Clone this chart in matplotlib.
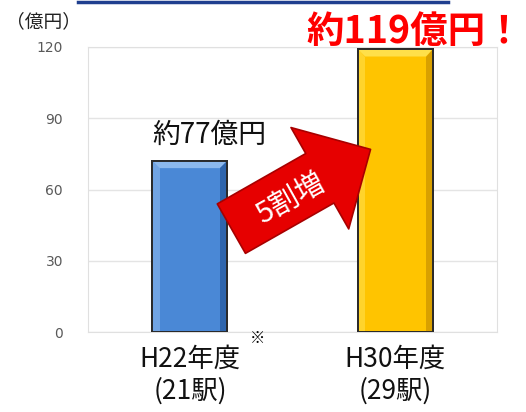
import numpy as np
import matplotlib.pyplot as plt
from matplotlib.patches import Polygon
from matplotlib.lines import Line2D

plt.rcParams['font.family'] = ['Noto Sans CJK JP', 'DejaVu Sans']

categories = ['H22年度\n(21駅)', 'H30年度\n(29駅)']
values = [72, 119]
yticks = [0, 30, 60, 90, 120]
face = ['#4A88D6', '#FFC400']
light = ['#8CB8EC', '#FFE04A']
dark = ['#2E65AD', '#D9A000']

fig = plt.figure(figsize=(5.26, 4.12), dpi=100)
ax = fig.add_axes([88 / 526, 1 - 332 / 412, 409 / 526, 285 / 412])

x = np.arange(len(values))
w = 0.365
ax.bar(x, values, width=w, color=face, edgecolor='#2a2a2a', linewidth=1.4, zorder=3)

# bevel look
bx = 0.035
by = 3.0
for i, v in enumerate(values):
    l, r = x[i] - w / 2, x[i] + w / 2
    ax.add_patch(Polygon([[l, v], [r, v], [r - bx, v - by], [l + bx, v - by]],
                         closed=True, color=light[i], zorder=4, lw=0))
    ax.add_patch(Polygon([[r, v], [r, 0], [r - bx, 0], [r - bx, v - by]],
                         closed=True, color=dark[i], zorder=4, lw=0))
    ax.add_patch(Polygon([[l, v], [l, 0], [l + bx, 0], [l + bx, v - by]],
                         closed=True, color=light[i], alpha=0.6, zorder=4, lw=0))
    ax.add_patch(plt.Rectangle((l, 0), w, v, fill=False, ec='#2a2a2a', lw=1.4, zorder=5))

ax.set_xlim(-0.496, 1.494)
ax.set_ylim(0, 120)
ax.set_yticks(yticks)
ax.set_yticklabels([str(t) for t in yticks], color='#595959', fontsize=10,
                   family=['DejaVu Sans'])
ax.tick_params(axis='y', length=0, pad=18)
ax.set_xticks(x)
ax.set_xticklabels(categories, fontsize=19, linespacing=1.2, color='#111111')
ax.tick_params(axis='x', length=0, pad=10)
ax.grid(axis='y', color='#e4e4e4', lw=1, zorder=0)
for s in ax.spines.values():
    s.set_color('#e0e0e0')

# arrow
ax.annotate('', xy=((373 - 190) / 205.5, (332 - 148) / 2.375),
            xytext=((229 - 190) / 205.5, (332 - 230) / 2.375),
            arrowprops=dict(arrowstyle='simple,head_length=42,head_width=84,tail_width=41',
                            mutation_scale=1, fc='#E60000', ec='#A80000', lw=1.2),
            zorder=6)
ax.text((291 - 190) / 205.5, (332 - 199) / 2.375, '5割増', color='white', fontsize=21,
        rotation=29, ha='center', va='center', zorder=7)

ax.text((209 - 190) / 205.5, (332 - 135) / 2.375, '約77億円', fontsize=20, ha='center',
        va='center', color='#111111')

fig.text(306 / 526, 1 - 31 / 412, '約119億円！', color='#FF0000', fontsize=27,
         fontweight='bold', ha='left', va='center')
fig.text(6 / 526, 1 - 22 / 412, '（億円）', fontsize=13.5, ha='left', va='center', color='#222222')
fig.text(257 / 526, 1 - 338 / 412, '※', fontsize=11, ha='center', va='center')
fig.add_artist(Line2D([78 / 526, 448 / 526], [1 - 1.5 / 412, 1 - 1.5 / 412],
                      color='#1F3F8F', lw=2.5))

fig.savefig('out.png', dpi=100)
